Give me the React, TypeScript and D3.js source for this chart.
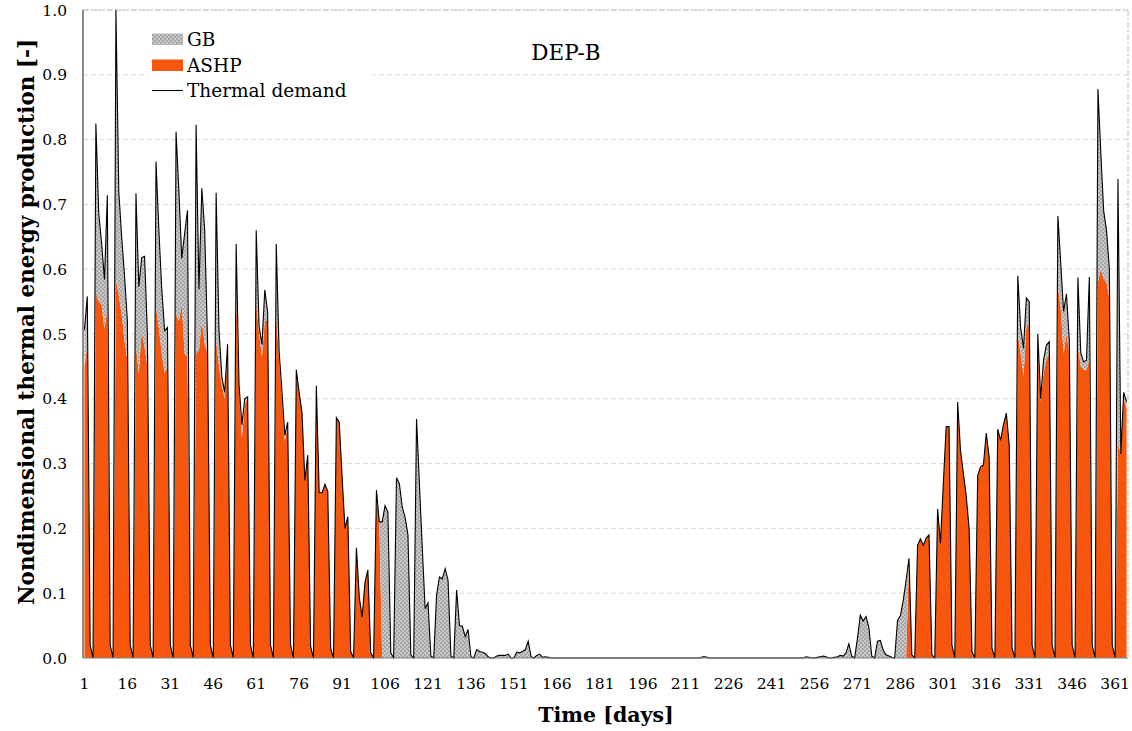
import React from "react";
import * as d3 from "d3";

// ---- Data ----
// Daily nondimensional thermal demand, days 1..365 (rows = weeks Mon..Sun; first row = days 1-4)
const thermalDemand: number[] = [
  0.506, 0.558, 0.02, 0,
  0.825, 0.686, 0.64, 0.584, 0.714, 0.02, 0,
  1.0, 0.72, 0.65, 0.59, 0.52, 0.02, 0,
  0.717, 0.573, 0.618, 0.62, 0.5, 0.02, 0,
  0.766, 0.66, 0.57, 0.505, 0.51, 0.02, 0,
  0.812, 0.72, 0.617, 0.655, 0.691, 0.02, 0,
  0.823, 0.569, 0.725, 0.66, 0.49, 0.02, 0,
  0.718, 0.506, 0.434, 0.41, 0.484, 0.02, 0,
  0.639, 0.422, 0.36, 0.4, 0.403, 0.02, 0,
  0.66, 0.512, 0.484, 0.568, 0.534, 0.02, 0,
  0.639, 0.473, 0.411, 0.344, 0.364, 0.02, 0,
  0.445, 0.41, 0.378, 0.274, 0.313, 0.018, 0,
  0.42, 0.255, 0.255, 0.268, 0.257, 0.015, 0,
  0.371, 0.364, 0.28, 0.2, 0.218, 0.01, 0,
  0.17, 0.094, 0.063, 0.117, 0.136, 0.008, 0,
  0.259, 0.21, 0.21, 0.235, 0.225, 0.008, 0,
  0.278, 0.269, 0.233, 0.217, 0.19, 0.005, 0,
  0.369, 0.27, 0.17, 0.076, 0.085, 0.003, 0,
  0.097, 0.125, 0.122, 0.138, 0.12, 0.003, 0,
  0.105, 0.05, 0.049, 0.033, 0.044, 0.002, 0,
  0.013, 0.01, 0.009, 0.007, 0.002, 0, 0,
  0.003, 0.004, 0.004, 0.004, 0.006, 0, 0,
  0.009, 0.008, 0.01, 0.013, 0.026, 0.002, 0,
  0.004, 0.006, 0.001, 0.002, 0.001, 0, 0,
  0, 0, 0, 0, 0, 0, 0,
  0, 0, 0, 0, 0, 0, 0,
  0, 0, 0, 0, 0, 0, 0,
  0, 0, 0, 0, 0, 0, 0,
  0, 0, 0, 0, 0, 0, 0,
  0, 0, 0, 0, 0, 0, 0,
  0, 0, 0, 0, 0, 0, 0,
  0, 0, 0.002, 0.002, 0, 0, 0,
  0, 0, 0, 0, 0, 0, 0,
  0, 0, 0, 0, 0, 0, 0,
  0, 0, 0, 0, 0, 0, 0,
  0, 0, 0, 0, 0, 0, 0,
  0, 0, 0, 0.002, 0.001, 0, 0,
  0.001, 0.002, 0.003, 0.002, 0, 0, 0.001,
  0.002, 0.004, 0.003, 0.008, 0.022, 0.003, 0,
  0.03, 0.066, 0.057, 0.064, 0.047, 0.003, 0,
  0.026, 0.027, 0.012, 0.005, 0.003, 0.001, 0,
  0.058, 0.065, 0.089, 0.12, 0.154, 0.005, 0,
  0.174, 0.184, 0.174, 0.185, 0.19, 0.005, 0,
  0.23, 0.177, 0.27, 0.357, 0.357, 0.02, 0,
  0.395, 0.32, 0.285, 0.25, 0.2, 0.01, 0,
  0.282, 0.295, 0.298, 0.347, 0.31, 0.015, 0,
  0.353, 0.336, 0.36, 0.378, 0.33, 0.015, 0,
  0.59, 0.51, 0.478, 0.556, 0.55, 0.02, 0,
  0.5, 0.4, 0.46, 0.483, 0.488, 0.02, 0,
  0.682, 0.61, 0.535, 0.562, 0.49, 0.02, 0,
  0.587, 0.471, 0.457, 0.46, 0.588, 0.02, 0,
  0.878, 0.78, 0.69, 0.66, 0.6, 0.02, 0,
  0.739, 0.315, 0.41, 0.395,
];

// Daily nondimensional production by the air-source heat pump (ASHP)
const ashpProduction: number[] = [
  0.45, 0.48, 0.02, 0,
  0.563, 0.55, 0.545, 0.508, 0.537, 0.02, 0,
  0.583, 0.56, 0.53, 0.49, 0.46, 0.02, 0,
  0.48, 0.44, 0.505, 0.48, 0.45, 0.02, 0,
  0.54, 0.51, 0.47, 0.44, 0.45, 0.02, 0,
  0.53, 0.52, 0.545, 0.47, 0.465, 0.02, 0,
  0.47, 0.475, 0.52, 0.485, 0.47, 0.02, 0,
  0.49, 0.45, 0.42, 0.4, 0.47, 0.02, 0,
  0.56, 0.42, 0.34, 0.39, 0.4, 0.02, 0,
  0.55, 0.5, 0.465, 0.52, 0.52, 0.02, 0,
  0.53, 0.46, 0.4, 0.335, 0.36, 0.02, 0,
  0.44, 0.41, 0.378, 0.274, 0.313, 0.018, 0,
  0.42, 0.255, 0.255, 0.268, 0.257, 0.015, 0,
  0.371, 0.364, 0.28, 0.2, 0.218, 0.01, 0,
  0.17, 0.094, 0.063, 0.117, 0.136, 0.008, 0,
  0.255, 0.21, 0, 0, 0, 0, 0,
  0, 0, 0, 0, 0, 0, 0,
  0, 0, 0, 0, 0, 0, 0,
  0, 0, 0, 0, 0, 0, 0,
  0, 0, 0, 0, 0, 0, 0,
  0, 0, 0, 0, 0, 0, 0,
  0, 0, 0, 0, 0, 0, 0,
  0, 0, 0, 0, 0, 0, 0,
  0, 0, 0, 0, 0, 0, 0,
  0, 0, 0, 0, 0, 0, 0,
  0, 0, 0, 0, 0, 0, 0,
  0, 0, 0, 0, 0, 0, 0,
  0, 0, 0, 0, 0, 0, 0,
  0, 0, 0, 0, 0, 0, 0,
  0, 0, 0, 0, 0, 0, 0,
  0, 0, 0, 0, 0, 0, 0,
  0, 0, 0, 0, 0, 0, 0,
  0, 0, 0, 0, 0, 0, 0,
  0, 0, 0, 0, 0, 0, 0,
  0, 0, 0, 0, 0, 0, 0,
  0, 0, 0, 0, 0, 0, 0,
  0, 0, 0, 0, 0, 0, 0,
  0, 0, 0, 0, 0, 0, 0,
  0, 0, 0, 0, 0, 0, 0,
  0, 0, 0, 0, 0, 0, 0,
  0, 0, 0, 0, 0, 0, 0,
  0, 0, 0, 0, 0.154, 0.005, 0,
  0.174, 0.184, 0.174, 0.185, 0.19, 0.005, 0,
  0.23, 0.177, 0.27, 0.357, 0.357, 0.02, 0,
  0.395, 0.32, 0.285, 0.25, 0.2, 0.01, 0,
  0.282, 0.295, 0.298, 0.347, 0.31, 0.015, 0,
  0.353, 0.336, 0.36, 0.378, 0.33, 0.015, 0,
  0.5, 0.47, 0.435, 0.51, 0.515, 0.02, 0,
  0.48, 0.395, 0.44, 0.46, 0.47, 0.02, 0,
  0.575, 0.54, 0.47, 0.5, 0.47, 0.02, 0,
  0.48, 0.45, 0.445, 0.445, 0.46, 0.02, 0,
  0.58, 0.6, 0.585, 0.58, 0.555, 0.02, 0,
  0.33, 0.315, 0.4, 0.385,
];

const xTickDays: number[] = [1, 16, 31, 46, 61, 76, 91, 106, 121, 136, 151, 166, 181, 196, 211, 226, 241, 256, 271, 286, 301, 316, 331, 346, 361];
const yTickValues: number[] = [0, 0.1, 0.2, 0.3, 0.4, 0.5, 0.6, 0.7, 0.8, 0.9, 1.0];
const seriesNames: string[] = ["GB", "ASHP", "Thermal demand"];
const chartTitle = "DEP-B";

const FONT = "DejaVu Serif";
const ORANGE = "#F6560D";

export default function App() {
  const W = 1132, H = 731;
  const left = 83, right = 1128, top = 10, bottom = 658;

  const days = thermalDemand.map((_, i) => i + 1);
  const rows = days.map((d, i) => ({
    day: d,
    ashp: ashpProduction[i],
    gb: Math.max(0, thermalDemand[i] - ashpProduction[i]),
    demand: thermalDemand[i],
  }));

  const x = d3.scaleLinear().domain([0.5, 365.5]).range([left, right]);
  const y = d3.scaleLinear().domain([0, 1]).range([bottom, top]);

  const stacked = d3.stack<any>().keys(["ashp", "gb"])(rows);
  const area = d3
    .area<any>()
    .x((d) => x(d.data.day))
    .y0((d) => y(d[0]))
    .y1((d) => y(d[1]));
  const line = d3
    .line<any>()
    .x((d) => x(d.day))
    .y((d) => y(d.demand));

  const fmt = d3.format(".1f");

  return (
    <svg
      width={W}
      height={H}
      style={{ position: "absolute", left: 0, top: 0, display: "block", background: "#fff" }}
      fontFamily={FONT}
    >
      <defs>
        <pattern id="gbDots" width="4" height="4" patternUnits="userSpaceOnUse">
          <rect width="4" height="4" fill="#a8a8a8" />
          <rect x="0.5" y="0.5" width="1.2" height="1.2" fill="#ffffff" />
          <rect x="2.5" y="2.5" width="1.2" height="1.2" fill="#ffffff" />
        </pattern>
        <clipPath id="plotClip">
          <rect x={left} y={top - 1} width={right - left} height={bottom - top + 2} />
        </clipPath>
      </defs>

      {/* gridlines */}
      {yTickValues.slice(1).map((v) => (
        <line
          key={"g" + v}
          x1={left}
          x2={right}
          y1={y(v)}
          y2={y(v)}
          stroke="#d9d9d9"
          strokeWidth={1}
          strokeDasharray="5,3"
        />
      ))}
      {/* plot border (top/right) */}
      <line x1={left} x2={right} y1={top} y2={top} stroke="#bfbfbf" strokeDasharray="6,2,2,2" />
      <line x1={right} x2={right} y1={top} y2={bottom} stroke="#bfbfbf" strokeDasharray="6,2,2,2" />

      {/* areas */}
      <g clipPath="url(#plotClip)">
        <path d={area(stacked[0] as any) || ""} fill={ORANGE} />
        <path d={area(stacked[1] as any) || ""} fill="url(#gbDots)" />
        <path d={line(rows) || ""} fill="none" stroke="#000" strokeWidth={1.1} strokeLinejoin="miter" />
      </g>

      {/* axes */}
      <line x1={left} x2={left} y1={top} y2={bottom} stroke="#404040" strokeWidth={1.2} />
      <line x1={left} x2={right} y1={bottom} y2={bottom} stroke="#7f7f7f" strokeWidth={1} />

      {/* y tick labels */}
      {yTickValues.map((v) => (
        <text key={"y" + v} x={67} y={y(v)} dy="0.36em" textAnchor="end" fontSize={15.5} fill="#000">
          {fmt(v)}
        </text>
      ))}
      {/* x tick labels */}
      {xTickDays.map((d) => (
        <text key={"x" + d} x={x(d)} y={689} textAnchor="middle" fontSize={15.5} fill="#000">
          {d}
        </text>
      ))}

      {/* axis titles */}
      <text x={606} y={722} textAnchor="middle" fontSize={20.5} fontWeight="bold" fill="#000">
        Time [days]
      </text>
      <text
        transform="translate(34,322) rotate(-90)"
        textAnchor="middle"
        fontSize={21.5}
        fontWeight="bold"
        fill="#000"
      >
        Nondimensional thermal energy production [-]
      </text>

      {/* title */}
      <text x={566} y={60} textAnchor="middle" fontSize={21.5} fill="#000">
        {chartTitle}
      </text>

      {/* legend */}
      <g>
        <rect x={148} y={24} width={224} height={80} fill="#fff" />
        <rect x={152} y={33.5} width={31} height={11.5} fill="url(#gbDots)" />
        <rect x={152} y={59.5} width={31} height={11.5} fill={ORANGE} />
        <line x1={152} x2={183} y1={90.5} y2={90.5} stroke="#000" strokeWidth={1.1} />
        <text x={187} y={46} fontSize={18.5} fill="#000">{seriesNames[0]}</text>
        <text x={187} y={71.5} fontSize={18.5} fill="#000">{seriesNames[1]}</text>
        <text x={187} y={97} fontSize={18.5} fill="#000">{seriesNames[2]}</text>
      </g>
    </svg>
  );
}
